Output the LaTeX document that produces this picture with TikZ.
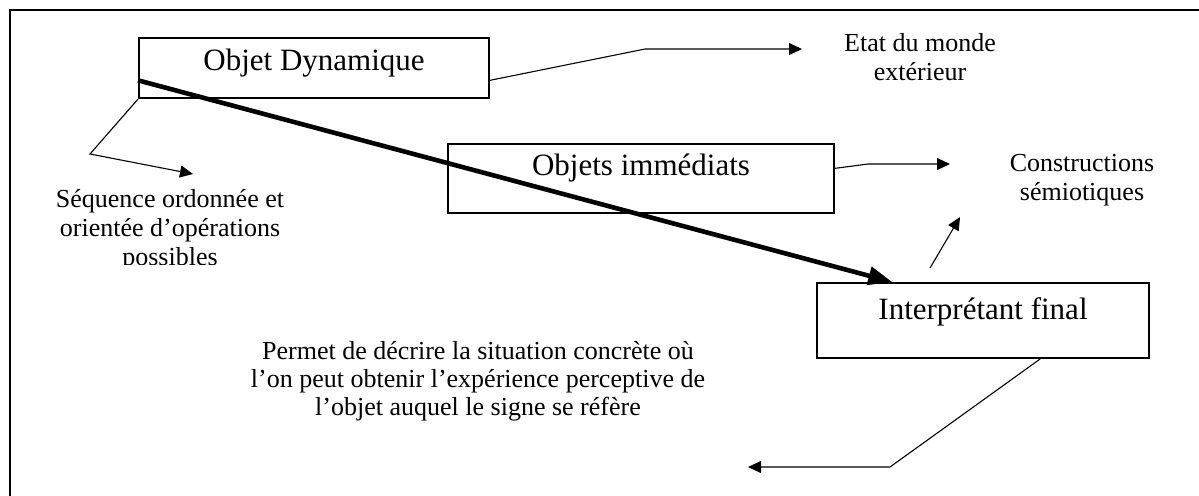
\documentclass[tikz,border=0pt]{standalone}
\usepackage{fontspec}
\setmainfont{Liberation Serif}
\usetikzlibrary{arrows.meta}

\tikzset{
  boite/.style={draw, line width=1pt, inner sep=0pt, anchor=north west,
    font=\fontsize{15.5}{18}\selectfont},
  legende/.style={align=center, inner sep=0pt, font=\fontsize{13}{14.5}\selectfont},
  fleche/.style={line width=0.55pt, -{Triangle[length=6.5pt,width=6pt]}},
  grossefleche/.style={line width=2.3pt, -{Triangle[length=12pt,width=9pt]}}
}

\begin{document}
\begin{tikzpicture}[x=0.5pt,y=-0.5pt]
  \useasboundingbox (0,0) rectangle (1199,495);
  \fill[white] (0,0) rectangle (1199,495);
  % cadre
  \draw[line width=1pt] (10,500) -- (10,10) -- (1205,10);

  % les trois boites
  \node[boite, minimum width=175pt, text height=16pt, text depth=14pt] (od) at (138,37) {Objet Dynamique};
  \node[boite, minimum width=193pt, text height=15.5pt, text depth=19pt] (oi) at (447,143) {Objets immédiats};
  \node[boite, minimum width=166pt, text height=18pt, text depth=19.5pt] (intf) at (816,282) {Interprétant final};

  % les textes
  \node[legende] (etat) at (920,57) {Etat du monde\\extérieur};
  \node[legende] (constr) at (1082,180) {Constructions\\sémiotiques};
  \begin{scope}
    \clip (0,0) rectangle (400,264);
    \node[legende] (sequence) at (170,230) {Séquence ordonnée et\\orientée d’opérations\\possibles};
  \end{scope}
  \node[legende, font=\fontsize{13}{14}\selectfont] (permet) at (478,381)
    {Permet de décrire la situation concrète où\\l’on peut obtenir l’expérience perceptive de\\l’objet auquel le signe se réfère};

  % les fleches
  \coordinate (coude1) at (645,49);
  \coordinate (pointe1) at (802,49);
  \coordinate (coude2) at (90,154);
  \coordinate (pointe2) at (193,174);
  \coordinate (coude3) at (868,164);
  \coordinate (pointe3) at (950,164);
  \coordinate (depart4) at (930,268);
  \coordinate (pointe4) at (960,217);
  \coordinate (coude5) at (890,467);
  \coordinate (pointe5) at (748,467);

  \draw[fleche] (od.-4.9) -- (coude1) -- (pointe1);
  \draw[fleche] (od.190.6) -- (coude2) -- (pointe2);
  \draw[fleche] (oi.3.7) -- (coude3) -- (pointe3);
  \draw[fleche] (depart4) -- (pointe4);
  \draw[fleche] (intf.-34.8) -- (coude5) -- (pointe5);
  \draw[grossefleche] (od.184.6) -- (intf.157.4);
\end{tikzpicture}
\end{document}
